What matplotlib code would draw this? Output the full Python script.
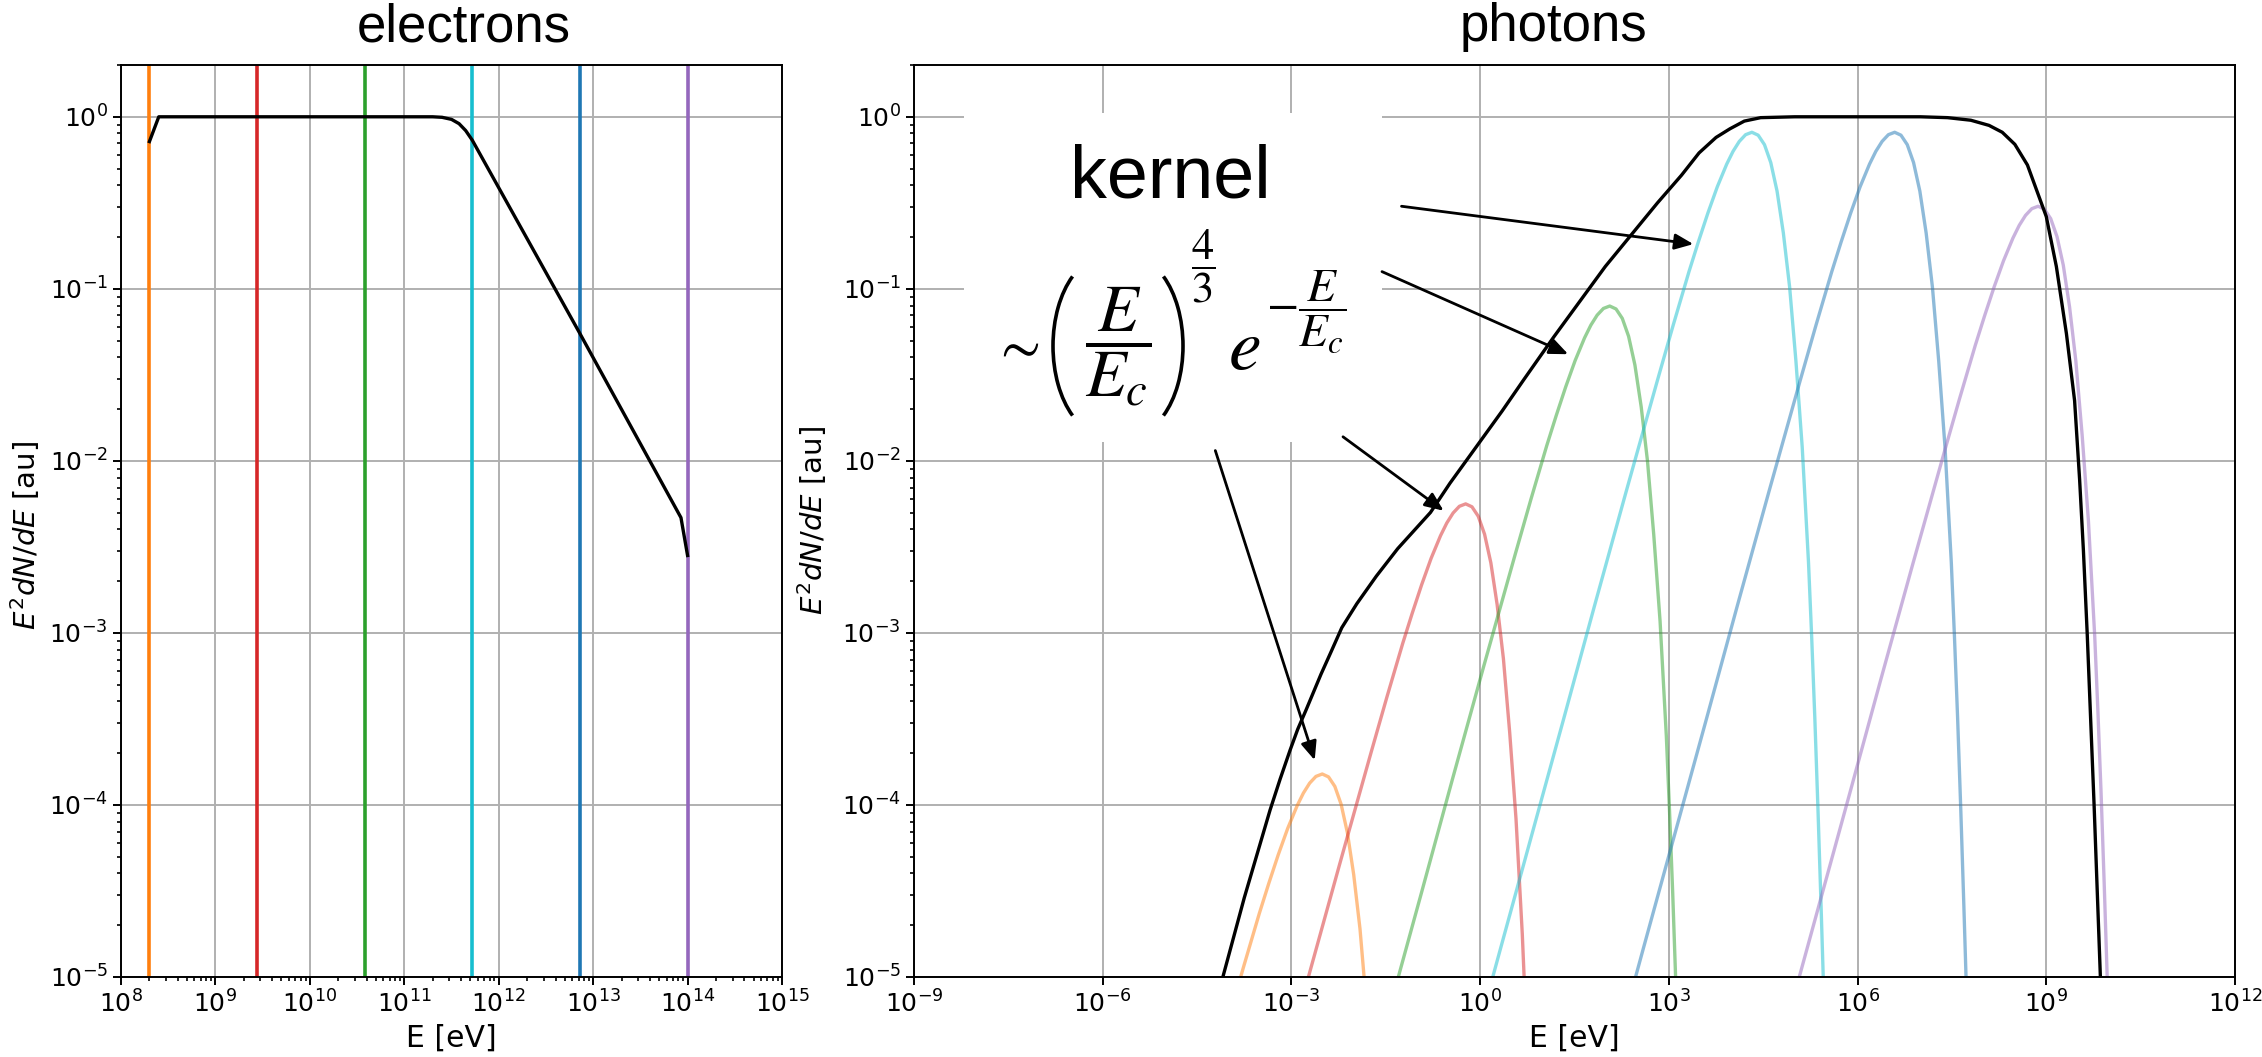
import numpy as np
import matplotlib
matplotlib.use("Agg")
import matplotlib.pyplot as plt
from matplotlib.patches import Rectangle, Arc
from matplotlib.ticker import LogLocator, NullLocator

# electron cutoff energies (vertical lines, left panel)
elec_cut_E = [2.0e8, 2.76e9, 3.81e10, 5.25e11, 7.25e12, 1.0e14]
elec_cut_colors = ["tab:orange", "tab:red", "tab:green", "tab:cyan", "tab:blue", "tab:purple"]

# electron spectrum, log10 E [eV] / log10 E^2 dN/dE
elec_logE = [8.301, 8.40, 11.30, 11.40, 11.50, 11.58, 11.65, 11.72, 12.86, 13.93, 14.0]
elec_logY = [-0.144, 0.0, 0.0, -0.003, -0.015, -0.04, -0.08, -0.136, -1.26, -2.33, -2.55]

# total photon spectrum
photon_logE = [-4.40, -4.09, -3.75, -3.34, -3.18, -3.02, -2.90, -2.77, -2.65, -2.53, -2.37,
               -2.20, -1.96, -1.65, -1.31, -0.79, -0.48, 0.35, 0.69, 1.17, 1.99, 2.82,
               3.20, 3.48, 3.75, 3.97, 4.20, 4.46, 5.0, 6.0, 7.0, 7.43, 7.80, 8.09, 8.30,
               8.50, 8.70, 8.83, 9.00, 9.16, 9.32, 9.45, 9.53, 9.59, 9.65, 9.76, 9.86, 9.92]
photon_logY = [-5.42, -5.0, -4.54, -4.03, -3.85, -3.68, -3.56, -3.45, -3.345, -3.24, -3.11,
               -2.97, -2.83, -2.67, -2.51, -2.30, -2.13, -1.71, -1.53, -1.28, -0.87, -0.50,
               -0.34, -0.21, -0.12, -0.07, -0.025, -0.005, 0.0, 0.0, 0.0, -0.005, -0.02,
               -0.05, -0.09, -0.16, -0.28, -0.41, -0.58, -0.87, -1.26, -1.65, -2.11, -2.52,
               -3.0, -4.0, -5.0, -5.6]

# single-electron kernels: peak of each one ...
kernel_peak_logE = [-2.51, -0.23, 2.06, 4.32, 6.59, 8.87]
kernel_peak_logY = [-3.82, -2.25, -1.10, -0.09, -0.09, -0.52]
kernel_colors = ["tab:orange", "tab:red", "tab:green", "tab:cyan", "tab:blue", "tab:purple"]
# ... and their common shape around the peak (log10 offsets)
kernel_shape_dlogE = [-4.5, -4.0, -3.0, -2.5, -2.0, -1.5, -1.25, -1.0, -0.85, -0.7, -0.55,
                      -0.4, -0.3, -0.2, -0.1, 0.0, 0.1, 0.2, 0.3, 0.4, 0.5, 0.6, 0.7, 0.8,
                      0.9, 0.95, 1.0, 1.05, 1.1, 1.15, 1.2]
kernel_shape_dlogY = [-5.42, -4.75, -3.42, -2.75, -2.09, -1.44, -1.12, -0.81, -0.636, -0.47,
                      -0.317, -0.185, -0.111, -0.053, -0.014, 0.0, -0.017, -0.072, -0.176,
                      -0.342, -0.585, -0.90, -1.33, -1.83, -2.5, -2.93, -3.4, -3.93, -4.5,
                      -5.1, -5.8]

# annotation arrows (start, tip) in log10 data coords of the photon panel
arrows = [
    ((-1.25, -0.52), (3.39, -0.74)),
    ((-1.56, -0.90), (1.40, -1.38)),
    ((-2.18, -1.86), (-0.58, -2.29)),
    ((-4.21, -1.94), (-2.63, -3.74)),
]

plt.rcParams["font.family"] = ["DejaVu Sans"]
plt.rcParams["axes.linewidth"] = 1.4
plt.rcParams["grid.linewidth"] = 1.4
plt.rcParams["grid.color"] = "#b0b0b0"

W, H = 2262, 1057
fig = plt.figure(figsize=(W / 100, H / 100), dpi=100)
ax_e = fig.add_axes([121 / W, 80 / H, 661 / W, 912 / H])
ax_p = fig.add_axes([914 / W, 80 / H, 1321 / W, 912 / H])


def px(x, y):
    """pixel position (from top-left) -> figure fraction"""
    return x / W, 1 - y / H


def style_axes(ax, xlim):
    ax.set_xscale("log")
    ax.set_yscale("log")
    ax.set_xlim(*xlim)
    ax.set_ylim(1e-5, 2)
    ax.grid(True, which="major")
    ax.tick_params(which="major", length=5.5, width=1.4, labelsize=18, pad=4)
    ax.tick_params(which="minor", length=3.1, width=1.2)
    ax.yaxis.set_major_locator(LogLocator(base=10, numticks=20))
    ax.yaxis.set_minor_locator(LogLocator(base=10, subs=np.arange(2, 10), numticks=20))
    ax.set_xlabel("E [eV]", fontsize=21.5)
    ax.set_ylabel(r"$E^2dN/dE$ [au]", fontsize=21)
    ax.xaxis.set_label_coords(0.5, -0.051)
    ax.xaxis.label.set_va("top")


# electrons
style_axes(ax_e, (1e8, 1e15))
ax_e.xaxis.set_major_locator(LogLocator(base=10, numticks=20))
ax_e.xaxis.set_minor_locator(LogLocator(base=10, subs=np.arange(2, 10), numticks=20))
for e, c in zip(elec_cut_E, elec_cut_colors):
    ax_e.axvline(e, color=c, lw=2.6)
ax_e.plot(10.0 ** np.array(elec_logE), 10.0 ** np.array(elec_logY), color="k", lw=2.4)
ax_e.yaxis.set_label_coords(-0.1195, 0.4836)

# photons
style_axes(ax_p, (1e-9, 1e12))
ax_p.xaxis.set_major_locator(LogLocator(base=1000, numticks=20))
ax_p.xaxis.set_minor_locator(NullLocator())
shape_x = np.array(kernel_shape_dlogE)
shape_y = np.array(kernel_shape_dlogY)
for pk_x, pk_y, c in zip(kernel_peak_logE, kernel_peak_logY, kernel_colors):
    ax_p.plot(10.0 ** (pk_x + shape_x), 10.0 ** (pk_y + shape_y), color=c, lw=2.4, alpha=0.5)
ax_p.plot(10.0 ** np.array(photon_logE), 10.0 ** np.array(photon_logY), color="k", lw=2.4)
ax_p.yaxis.set_label_coords(-0.0643, 0.501)

# white box behind the kernel annotation (hides the grid)
ax_p.add_patch(Rectangle((0.0379, 0.5866), 0.3163, 0.3604, transform=ax_p.transAxes,
                         facecolor="white", edgecolor="none", zorder=1.6))

for (x0, y0), (x1, y1) in arrows:
    ax_p.annotate("", xy=(10 ** x1, 10 ** y1), xytext=(10 ** x0, 10 ** y0),
                  arrowprops=dict(arrowstyle="-|>,head_length=0.4,head_width=0.17",
                                  color="k", lw=2, mutation_scale=28,
                                  shrinkA=0, shrinkB=0), zorder=5)

fig.text(*px(1170, 198), "kernel", fontsize=53, family="Liberation Sans",
         ha="center", va="baseline")

# kernel formula, put together from pieces
mt = dict(math_fontfamily="stix", ha="center", va="center")
fig.text(*px(1016, 347), r"$\sim$", fontsize=42, **mt)
fig.text(*px(1118, 347), r"$\dfrac{E}{E_c}$", fontsize=48, **mt)
fig.text(*px(1203, 266), r"$\dfrac{4}{3}$", fontsize=32, **mt)
fig.text(*px(1244, 350), r"$e$", fontsize=53, **mt)
fig.text(*px(1306, 312), r"$-\dfrac{E}{E_c}$", fontsize=34, **mt)

# tall thin brackets around E/E_c
a, b, th = 52, 89, 65
for cx, t1, t2 in [(1053 + a, 180 - th, 180 + th), (1183 - a, -th, th)]:
    fig.add_artist(Arc((cx / 100, (H - 346) / 100), 2 * a / 100, 2 * b / 100,
                       theta1=t1, theta2=t2, transform=fig.dpi_scale_trans,
                       color="k", lw=2.6))

fig.text(*px(464, 41), "electrons", fontsize=38, family="Liberation Sans",
         ha="center", va="baseline")
fig.text(*px(1553, 41), "photons", fontsize=38, family="Liberation Sans",
         ha="center", va="baseline")

fig.savefig("out.png", dpi=100)
